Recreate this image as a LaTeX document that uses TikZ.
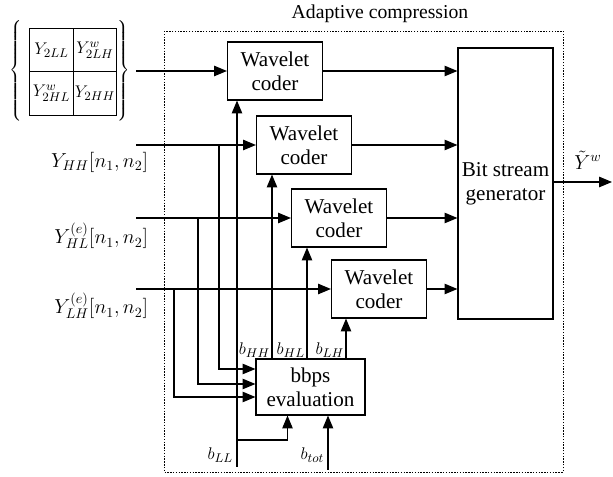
\documentclass[tikz,border=0pt]{standalone}
\usepackage{fontspec}
\setmainfont{Liberation Serif}
\usetikzlibrary{arrows.meta,positioning,calc}
\tikzset{
  >={Triangle[length=3.2mm,width=2.6mm]},
  every picture/.style={line width=0.8pt},
  coder/.style={draw,minimum width=2.375cm,minimum height=1.45cm,align=center,
    inner sep=1pt,font=\fontsize{15}{17}\selectfont},
  cell/.style={draw,minimum size=1.09cm,inner sep=0pt,font=\fontsize{13}{15}\selectfont},
  inlabel/.style={anchor=east,inner sep=1pt,font=\fontsize{14}{16}\selectfont},
  blabel/.style={inner sep=1.5pt,font=\fontsize{14}{16}\selectfont},
  budget/.style={inner sep=1pt,font=\fontsize{12.5}{15}\selectfont},
  flow/.style={->},
  frame/.style={dash pattern=on 1pt off 1pt,line width=0.6pt},
}

\begin{document}
\begin{tikzpicture}[x=0.025cm,y=-0.025cm]
  \useasboundingbox (0,0) rectangle (613,477);

  % adaptive compression frame
  \draw[frame] (164,31) rectangle (563,472);
  \node[blabel] (title) at (380,14) {Adaptive compression};

  % wavelet coders
  \foreach \x/\y [count=\i] in {275/71,304/145,339/218,379/289}
    \node[coder] (wc\i) at (\x,\y) {Wavelet\\coder};

  \node[coder,minimum height=6.775cm] (bsg) at (505.5,183.5) {Bit stream\\generator};
  \node[coder,minimum width=2.725cm,minimum height=1.4cm] (bb) at (310.5,387) {bbps\\evaluation};

  % subband blocks
  \node[cell] (ll) at (51.5,50) {$Y_{2LL}$};
  \node[cell] (lh) at (95,50) {$Y^w_{2LH}$};
  \node[cell] (hl) at (51.5,93.5) {$Y^w_{2HL}$};
  \node[cell] (hh) at (95,93.5) {$Y_{2HH}$};
  \node[inner sep=0pt] (lbr) at (17,71.5) {$\left\{\vrule height 1.22cm depth 1.22cm width 0pt\right.$};
  \node[inner sep=0pt] (rbr) at (123,71.5) {$\left.\vrule height 1.22cm depth 1.22cm width 0pt\right\}$};

  % inputs
  \node[inlabel] (yhh) at (150,162) {$Y_{HH}[n_1,n_2]$};
  \node[inlabel] (yhl) at (150,236) {$Y^{(e)}_{HL}[n_1,n_2]$};
  \node[inlabel] (ylh) at (150,306) {$Y^{(e)}_{LH}[n_1,n_2]$};
  \foreach \i/\y in {1/71,2/145,3/218,4/289}
    \coordinate (s\i) at (136,\y);
  \foreach \i in {1,...,4}
    \draw[flow] (s\i) -- (wc\i);

  % taps to bbps evaluation
  \coordinate (t2) at (219,145);
  \coordinate (t3) at (198,218);
  \coordinate (t4) at (174,289);
  \draw[flow] (t2) |- ($(bb.west)+(0,-18)$);
  \draw[flow] (t3) |- ($(bb.west)+(0,-3)$);
  \draw[flow] (t4) |- ($(bb.west)+(0,10)$);

  % coders to bit stream generator
  \foreach \i in {1,...,4}
    \draw[flow] (wc\i) -- (wc\i -| bsg.west);
  \coordinate (out) at (612,182);
  \draw[flow] (bsg.east |- out) -- (out);
  \node[blabel] (yw) at (588,160) {$\tilde{Y}^w$};

  % bit budgets
  \coordinate (bll) at (237,467);
  \coordinate (j) at (237,440);
  \draw[flow] (bll) -- (bll |- wc1.south);
  \draw[flow] (j) -| ($(bb.south)+(-23,0)$);
  \coordinate (btot) at (328,470);
  \draw[flow] (btot) -- (btot |- bb.south);
  \node[budget,anchor=east] (lll) at (235,455) {$b_{LL}$};
  \node[budget,anchor=east] (ltot) at (326,455) {$b_{tot}$};

  \coordinate (hhb) at (272,359);
  \coordinate (hlb) at (307,359);
  \coordinate (lhb) at (346,359);
  \draw[flow] (hhb) -- (hhb |- wc2.south);
  \draw[flow] (hlb) -- (hlb |- wc3.south);
  \draw[flow] (lhb) -- (lhb |- wc4.south);
  \node[budget,anchor=south east] (lhh) at (hhb) {$b_{HH}$};
  \node[budget,anchor=south east] (lhl) at (hlb) {$b_{HL}$};
  \node[budget,anchor=south east] (llh) at (lhb) {$b_{LH}$};
\end{tikzpicture}
\end{document}
